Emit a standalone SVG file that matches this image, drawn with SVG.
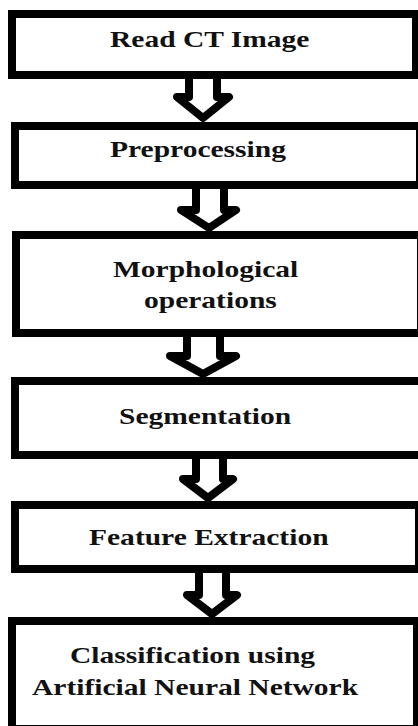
<svg xmlns="http://www.w3.org/2000/svg" width="418" height="726" viewBox="0 0 418 726">
  <style>
    .box { fill: #ffffff; stroke: #000000; stroke-width: 8; }
    .arrow { fill: #ffffff; stroke: #000000; stroke-width: 8; stroke-linejoin: round; }
    .label { font-family: "Liberation Serif", "Times New Roman", serif; font-weight: bold; font-size: 24px; fill: #111111; }
  </style>
  <rect x="0" y="0" width="418" height="726" fill="#ffffff"/>

  <!-- labels are set in a horizontally widened serif (scale 1.23 on x) -->
  <g id="node-read">
    <rect class="box" x="12" y="14" width="404" height="61"/>
    <text class="label" transform="translate(110 47) scale(1.23 1)">Read CT Image</text>
  </g>

  <g id="node-preprocessing">
    <rect class="box" x="15" y="126" width="405" height="59"/>
    <text class="label" transform="translate(110 157) scale(1.23 1)">Preprocessing</text>
  </g>

  <g id="node-morphology">
    <rect class="box" x="16" y="235" width="405" height="98"/>
    <text class="label" transform="translate(113 277) scale(1.23 1)">Morphological</text>
    <text class="label" transform="translate(144 308) scale(1.23 1)">operations</text>
  </g>

  <g id="node-segmentation">
    <rect class="box" x="15" y="381" width="415" height="74"/>
    <text class="label" transform="translate(119 424) scale(1.23 1)">Segmentation</text>
  </g>

  <g id="node-features">
    <rect class="box" x="15" y="505" width="404" height="64"/>
    <text class="label" transform="translate(89 545) scale(1.23 1)">Feature Extraction</text>
  </g>

  <g id="node-classification">
    <rect class="box" x="12" y="621" width="405" height="108"/>
    <text class="label" transform="translate(70 663) scale(1.23 1)">Classification using</text>
    <text class="label" transform="translate(32 695) scale(1.23 1)">Artificial Neural Network</text>
  </g>

  <g id="connectors">
    <!-- hollow block arrows between consecutive steps -->
    <polygon class="arrow" points="189,75 189,97 177,97 203,118 229,97 217,97 217,75"/>
    <polygon class="arrow" points="196,185 196,210 181,210 209,228 236,210 224,210 224,185"/>
    <polygon class="arrow" points="187,333 187,356 170,356 203,374 236,356 220,356 220,333"/>
    <polygon class="arrow" points="196,455 196,479 183,479 208,498 233,479 223,479 223,455"/>
    <polygon class="arrow" points="199,569 199,595 187,595 212,614 237,595 226,595 226,569"/>
  </g>
</svg>
